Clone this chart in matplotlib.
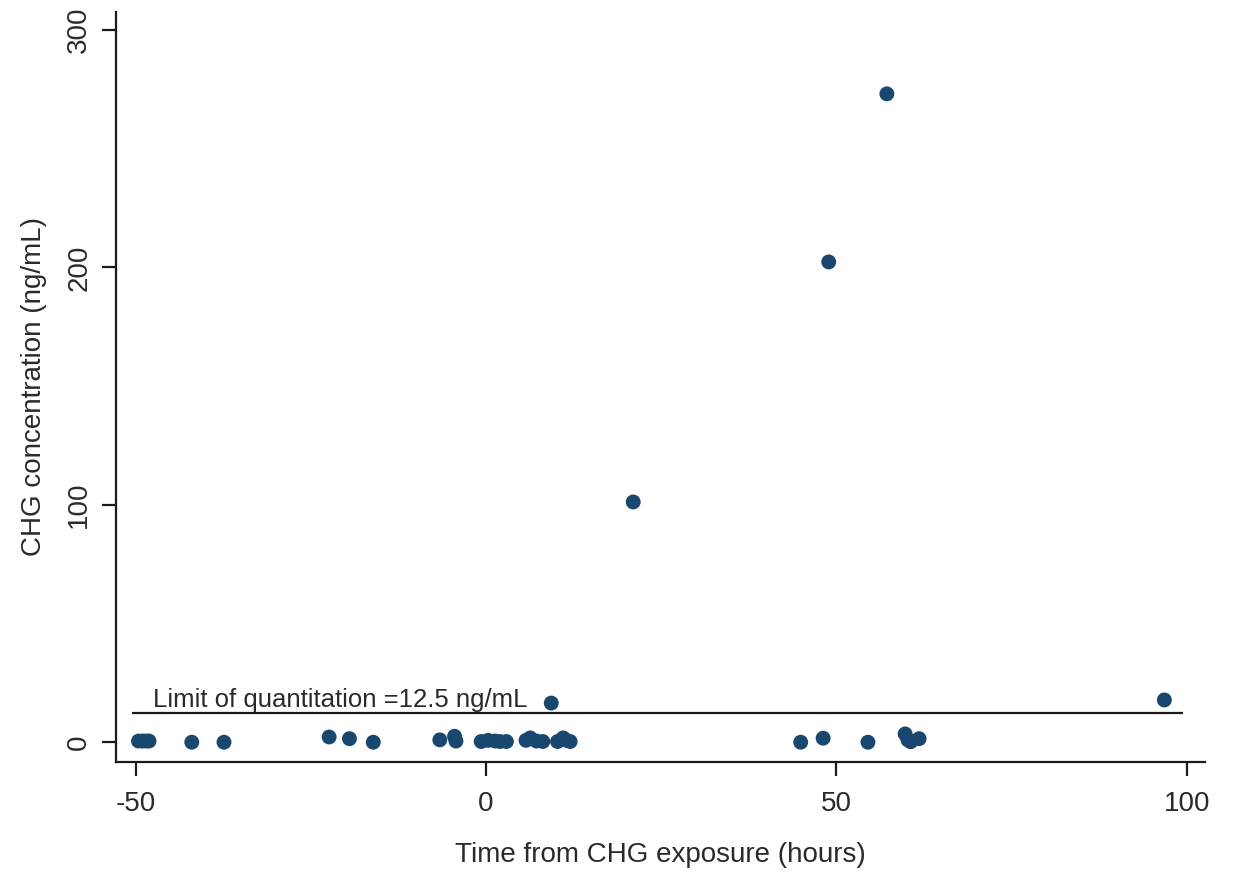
import numpy as np
import matplotlib
matplotlib.use('Agg')
import matplotlib.pyplot as plt

# CHG concentration vs time from exposure
time_h = [-49.6, -49.0, -48.5, -48.1, -42.0, -37.4,
          -22.4, -19.5, -16.1,
          -6.6, -4.5, -4.3,
          -0.7, 0.3, 1.3, 2.0, 2.9,
          5.7, 6.3, 7.2, 8.1,
          9.3, 10.2, 11.0, 11.5, 12.0,
          21.0,
          44.9, 48.1, 48.9, 54.5, 57.2,
          59.8, 60.2, 60.6, 61.8,
          96.8]
conc = [0.5, 0.5, 0.5, 0.5, 0.0, 0.0,
        2.2, 1.5, 0.0,
        1.0, 2.5, 0.5,
        0.3, 0.8, 0.5, 0.3, 0.3,
        0.8, 1.8, 0.5, 0.3,
        16.5, 0.3, 1.8, 0.8, 0.3,
        101.2,
        0.0, 1.7, 202.3, 0.0, 273.1,
        3.5, 1.0, 0.2, 1.5,
        17.8]

loq = 12.5
loq_x = [-50.6, 99.4]

xticks = [-50, 0, 50, 100]
yticks = [0, 100, 200, 300]

txt = '#2a2a2a'
plt.rcParams['font.family'] = ['Liberation Sans', 'DejaVu Sans']
plt.rcParams['axes.unicode_minus'] = False

fig = plt.figure(figsize=(12.34, 8.73), dpi=100)
ax = fig.add_axes([0.0938, 0.1275, 0.8827, 0.8591])

ax.scatter(time_h, conc, s=115, color='#1a476f', edgecolors='none', zorder=3)
ax.plot(loq_x, [loq, loq], color='#1a1a1a', lw=1.6, solid_capstyle='butt')
ax.text(-47.5, 15.0, 'Limit of quantitation =12.5 ng/mL', fontsize=18.5,
        color=txt, va='baseline', ha='left')

ax.set_xlim(-52.85, 102.6)
ax.set_ylim(-8.2, 307.7)
ax.set_xticks(xticks)
ax.set_yticks(yticks)
ax.set_yticklabels([str(v) for v in yticks], rotation=90, va='center')

for s in ['top', 'right']:
    ax.spines[s].set_visible(False)
for s in ['left', 'bottom']:
    ax.spines[s].set_linewidth(1.6)
    ax.spines[s].set_color('#1a1a1a')
ax.tick_params(length=10, width=1.6, color='#1a1a1a', labelsize=20,
               labelcolor=txt)
ax.tick_params(axis='x', pad=11)
ax.tick_params(axis='y', pad=7)

ax.set_xlabel('Time from CHG exposure (hours)', fontsize=20, color=txt, labelpad=18)
ax.set_ylabel('CHG concentration (ng/mL)', fontsize=20, color=txt, labelpad=14)

fig.savefig('out.png', dpi=100)
